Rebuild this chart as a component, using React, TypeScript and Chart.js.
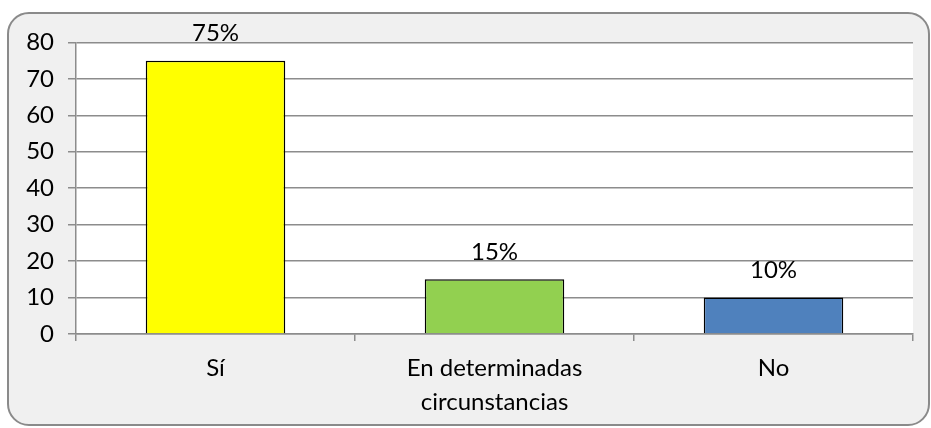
import React, { useEffect, useRef } from "react";
import { Chart, registerables } from "chart.js";

Chart.register(...registerables);

const categories: (string | string[])[] = ["Sí", ["En determinadas", "circunstancias"], "No"];
const values: number[] = [75, 15, 10];
const percentLabels: string[] = ["75%", "15%", "10%"];
const barColors: string[] = ["#FFFF00", "#92D050", "#4F81BD"];
const yTicksMax = 80;
const yStep = 10;

const FONT = "Lato, 'Open Sans', sans-serif";

const plotBg = {
  id: "plotBg",
  beforeDraw(chart: any) {
    const { ctx, chartArea } = chart;
    ctx.save();
    ctx.fillStyle = "#ffffff";
    ctx.fillRect(chartArea.left, chartArea.top, chartArea.right - chartArea.left, chartArea.bottom - chartArea.top);
    ctx.restore();
  },
};

const barLabels = {
  id: "barLabels",
  afterDatasetsDraw(chart: any) {
    const { ctx } = chart;
    const meta = chart.getDatasetMeta(0);
    ctx.save();
    ctx.font = `24px ${FONT}`;
    ctx.fillStyle = "#000";
    ctx.textAlign = "center";
    ctx.textBaseline = "middle";
    meta.data.forEach((bar: any, i: number) => {
      ctx.fillText(percentLabels[i], bar.x, bar.y - 27);
    });
    ctx.restore();
  },
};

export default function App() {
  const ref = useRef<HTMLCanvasElement>(null);
  useEffect(() => {
    if (!ref.current) return;
    const chart = new Chart(ref.current, {
      type: "bar",
      data: {
        labels: categories,
        datasets: [
          {
            data: values,
            backgroundColor: barColors,
            borderColor: "#000",
            borderWidth: 1.5,
            categoryPercentage: 1,
            barPercentage: 0.5,
          },
        ],
      },
      options: {
        animation: false,
        responsive: true,
        maintainAspectRatio: false,
        layout: { padding: { top: 28, right: 15, left: 0, bottom: 0 } },
        plugins: { legend: { display: false }, tooltip: { enabled: false } },
        scales: {
          x: {
            grid: {
              offset: true,
              drawOnChartArea: false,
              drawTicks: true,
              tickLength: 7,
              color: "#8c8c8c",
              lineWidth: 1.5,
            },
            border: { color: "#8c8c8c", width: 1.5 },
            ticks: {
              color: "#000",
              font: { family: FONT, size: 24, lineHeight: 1.42 },
              padding: 10,
              maxRotation: 0,
            },
            afterFit(scale: any) {
              scale.height = 90;
            },
          },
          y: {
            min: 0,
            max: yTicksMax,
            ticks: {
              stepSize: yStep,
              color: "#000",
              font: { family: FONT, size: 24 },
              padding: 14,
            },
            grid: {
              color: "#8c8c8c",
              lineWidth: 1.5,
              tickLength: 8,
            },
            border: { color: "#8c8c8c", width: 1.5 },
            afterFit(scale: any) {
              scale.width = 67;
            },
          },
        },
      },
      plugins: [plotBg, barLabels],
    });
    return () => chart.destroy();
  }, []);

  return (
    <div
      style={{
        position: "fixed",
        left: 7,
        top: 12,
        width: 923,
        height: 414,
        boxSizing: "border-box",
        border: "2px solid #8a8a8a",
        borderRadius: 22,
        background: "#f0f0f0",
      }}
    >
      <canvas ref={ref} style={{ display: "block" }} />
    </div>
  );
}
